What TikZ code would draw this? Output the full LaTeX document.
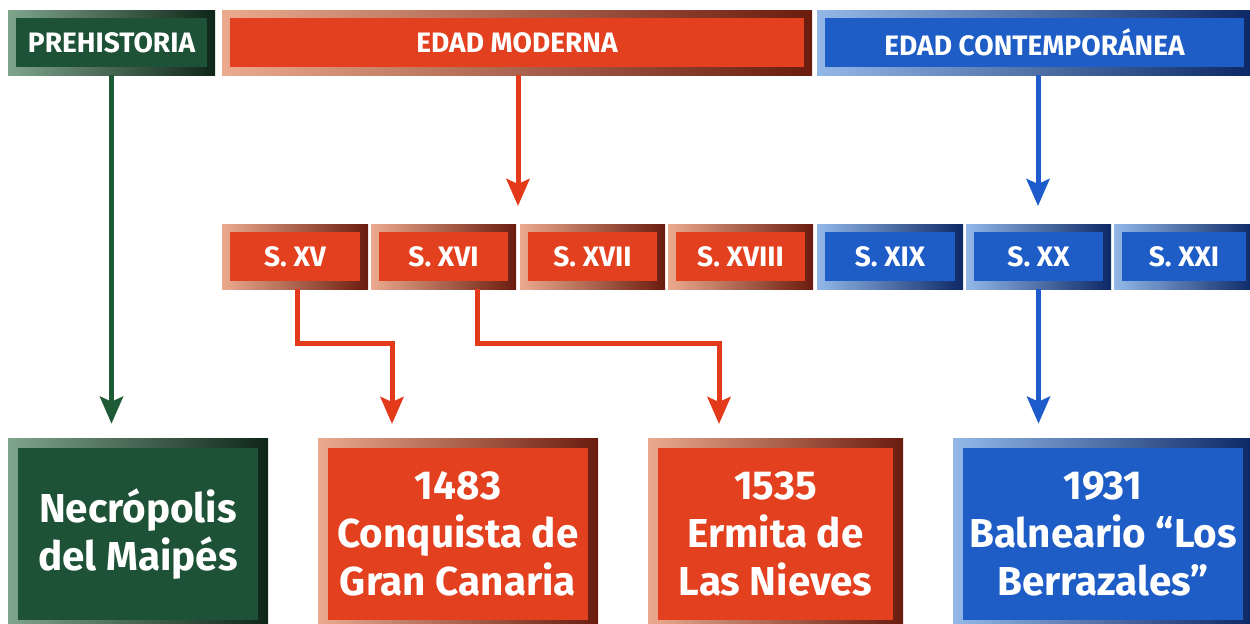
\documentclass[tikz,border=0pt]{standalone}
\usepackage{fontspec}
\setmainfont{Fira Sans}
\usetikzlibrary{arrows.meta}
\definecolor{gIn}{HTML}{1E5236}\definecolor{gL}{HTML}{7FA48C}\definecolor{gR}{HTML}{0E2618}
\definecolor{rIn}{HTML}{E2401F}\definecolor{rL}{HTML}{EBAA8E}\definecolor{rR}{HTML}{6A1C0E}
\definecolor{bIn}{HTML}{1E5CC6}\definecolor{bL}{HTML}{93B8E8}\definecolor{bR}{HTML}{0C2866}
\definecolor{gLine}{HTML}{1E5A36}\definecolor{rLine}{HTML}{E23A1A}\definecolor{bLine}{HTML}{1E5CCC}
\tikzset{
  box/.style={inner sep=0pt, align=center, text=white, font=\bfseries},
  inset/.style 2 args={path picture={\fill[#1] ([shift={(#2,-#2)}]path picture bounding box.north west) rectangle ([shift={(-#2,#2)}]path picture bounding box.south east);}},
  gbox/.style={box, left color=gL, right color=gR, inset={gIn}{0.16cm}},
  rbox/.style={box, left color=rL, right color=rR, inset={rIn}{0.16cm}},
  bbox/.style={box, left color=bL, right color=bR, inset={bIn}{0.16cm}},
  topfont/.style={font=\bfseries\fontsize{16}{19}\selectfont},
  bigfont/.style={font=\bfseries\fontsize{23}{27.5}\selectfont},
  conn/.style={line width=0.1cm, -{Stealth[length=0.54cm,width=0.46cm,inset=0.1cm]}},
}
\begin{document}
\begin{tikzpicture}[x=0.02cm,y=-0.02cm]
\useasboundingbox[fill=white] (0,0) rectangle (1250,623);
% top row
\node[gbox,topfont,minimum width=207*0.02cm,minimum height=65*0.02cm] (pre) at (111.5,42.5) {PREHISTORIA};
\node[rbox,topfont,minimum width=590*0.02cm,minimum height=65*0.02cm] (mod) at (517,42.5) {EDAD MODERNA};
\node[bbox,topfont,minimum width=435*0.02cm,minimum height=65*0.02cm] (con) at (1034.5,42.5) {EDAD CONTEMPORÁNEA};
% middle row
\node[rbox,topfont,minimum width=146*0.02cm,minimum height=65*0.02cm] (xv) at (295,256.5) {S. XV};
\node[rbox,topfont,minimum width=145*0.02cm,minimum height=65*0.02cm] (xvi) at (443.5,256.5) {S. XVI};
\node[rbox,topfont,minimum width=145*0.02cm,minimum height=65*0.02cm] (xvii) at (592.5,256.5) {S. XVII};
\node[rbox,topfont,minimum width=145*0.02cm,minimum height=65*0.02cm] (xviii) at (740.5,256.5) {S. XVIII};
\node[bbox,topfont,minimum width=146*0.02cm,minimum height=65*0.02cm] (xix) at (890,256.5) {S. XIX};
\node[bbox,topfont,minimum width=145*0.02cm,minimum height=65*0.02cm] (xx) at (1038.5,256.5) {S. XX};
\node[bbox,topfont,minimum width=140*0.02cm,minimum height=65*0.02cm] (xxi) at (1184,256.5) {S. XXI};
% bottom row
\node[gbox,bigfont,inset={gIn}{0.2cm},minimum width=260*0.02cm,minimum height=192*0.02cm] (nec) at (138,534) {Necrópolis\\del Maipés};
\node[rbox,bigfont,inset={rIn}{0.2cm},minimum width=280*0.02cm,minimum height=192*0.02cm] (con1483) at (458,534) {1483\\Conquista de\\Gran Canaria};
\node[rbox,bigfont,inset={rIn}{0.2cm},minimum width=255*0.02cm,minimum height=192*0.02cm] (erm1535) at (775.5,534) {1535\\Ermita de\\Las Nieves};
\node[bbox,bigfont,inset={bIn}{0.2cm},minimum width=300*0.02cm,minimum height=192*0.02cm] (bal1931) at (1103,534) {1931\\Balneario “Los\\Berrazales”};
% connectors
\coordinate (modEnd) at (518,206);
\coordinate (conEnd) at (1038,206);
\coordinate (t1483) at (392,424);
\coordinate (t1535) at (719,424);
\draw[conn,gLine] (pre.south) -- ([yshift=0.28cm]nec.north -| pre.south);
\draw[conn,rLine] (mod.south -| modEnd) -- (modEnd);
\draw[conn,bLine] (con.south -| conEnd) -- (conEnd);
\draw[conn,rLine] ([xshift=0.04cm]xv.south) |- (340,343) -| (t1483);
\draw[conn,rLine] ([xshift=0.67cm]xvi.south) |- (600,343) -| (t1535);
\draw[conn,bLine] (xx.south) -- ([yshift=0.28cm]bal1931.north -| xx.south);
\end{tikzpicture}
\end{document}
